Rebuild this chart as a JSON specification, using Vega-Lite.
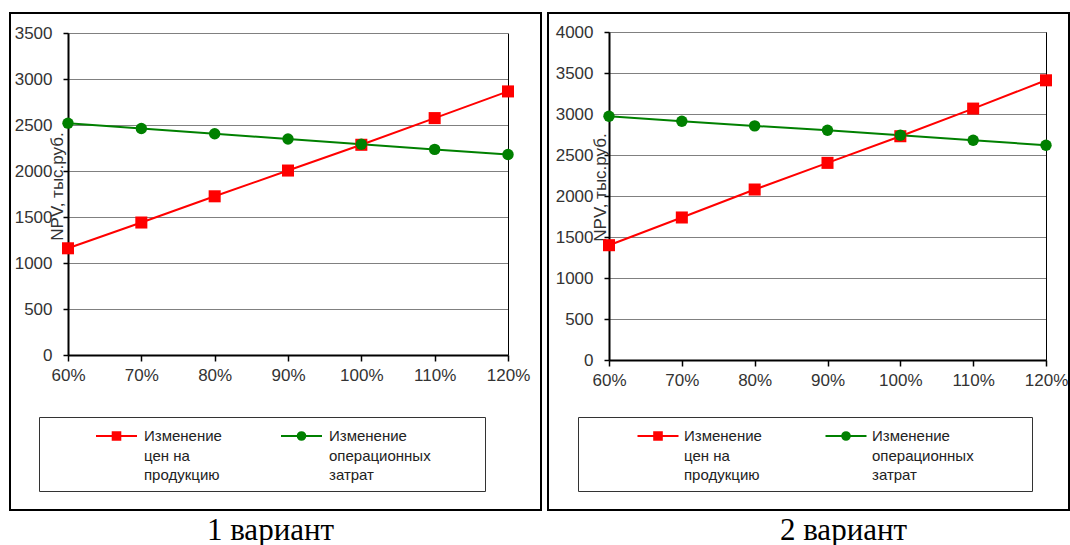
{
  "$schema": "https://vega.github.io/schema/vega-lite/v6.json",
  "padding": {"left": 9, "top": 12, "right": 0, "bottom": 0},
  "spacing": 5,
  "resolve": {"scale": {"color": "independent"}, "legend": {"color": "independent"}},
  "datasets": {
    "v1": [
      {"p": 0.6, "s": "price", "v": 1160}, {"p": 0.7, "s": "price", "v": 1440}, {"p": 0.8, "s": "price", "v": 1725},
      {"p": 0.9, "s": "price", "v": 2005}, {"p": 1.0, "s": "price", "v": 2285}, {"p": 1.1, "s": "price", "v": 2575},
      {"p": 1.2, "s": "price", "v": 2865},
      {"p": 0.6, "s": "cost", "v": 2520}, {"p": 0.7, "s": "cost", "v": 2462}, {"p": 0.8, "s": "cost", "v": 2405},
      {"p": 0.9, "s": "cost", "v": 2348}, {"p": 1.0, "s": "cost", "v": 2290}, {"p": 1.1, "s": "cost", "v": 2235},
      {"p": 1.2, "s": "cost", "v": 2180}
    ],
    "v2": [
      {"p": 0.6, "s": "price", "v": 1400}, {"p": 0.7, "s": "price", "v": 1738}, {"p": 0.8, "s": "price", "v": 2079},
      {"p": 0.9, "s": "price", "v": 2404}, {"p": 1.0, "s": "price", "v": 2729}, {"p": 1.1, "s": "price", "v": 3066},
      {"p": 1.2, "s": "price", "v": 3411},
      {"p": 0.6, "s": "cost", "v": 2973}, {"p": 0.7, "s": "cost", "v": 2912}, {"p": 0.8, "s": "cost", "v": 2855},
      {"p": 0.9, "s": "cost", "v": 2802}, {"p": 1.0, "s": "cost", "v": 2741}, {"p": 1.1, "s": "cost", "v": 2680},
      {"p": 1.2, "s": "cost", "v": 2619}
    ]
  },
  "config": {
    "view": {"stroke": "#000000", "strokeWidth": 2},
    "font": "Liberation Sans",
    "axis": {
      "labelFont": "Liberation Sans", "labelFontSize": 17, "labelColor": "#333333",
      "titleFont": "Liberation Sans", "titleFontSize": 17, "titleColor": "#333333", "titleFontWeight": "normal",
      "domainColor": "#000000", "domainWidth": 2, "tickColor": "#000000", "tickWidth": 1.5, "tickSize": 5,
      "gridColor": "#000000", "gridDash": [1, 1], "gridWidth": 1, "labelFlush": false, "labelOverlap": false
    },
    "axisX": {"labelPadding": 6, "tickSize": 6, "grid": false},
    "axisY": {"labelPadding": 11},
    "legend": {
      "orient": "none", "direction": "horizontal", "columns": 2, "title": null,
      "strokeColor": "#333333", "padding": 8,
      "symbolSize": 400, "symbolStrokeWidth": 2,
      "labelFont": "Liberation Sans", "labelFontSize": 15, "labelColor": "#222222", "labelBaseline": "middle", "labelLimit": 400
    },
    "title": {"font": "Liberation Serif", "fontSize": 31, "fontWeight": "normal", "color": "#000000", "baseline": "alphabetic", "offset": 6}
  },
  "hconcat": [
    {
      "width": 531, "height": 497,
      "data": {"name": "v1"},
      "title": {"text": "1 вариант", "orient": "bottom", "dx": -5},
      "resolve": {"axis": {"y": "independent"}},
      "encoding": {
        "x": {"field": "p", "type": "quantitative",
          "scale": {"domain": [0.6, 1.2], "range": [58, 498], "nice": false, "zero": false},
          "axis": {"values": [0.6, 0.7, 0.8, 0.9, 1.0, 1.1, 1.2], "format": ".0%", "offset": -155, "title": null}},
        "color": {"field": "s", "type": "nominal",
          "scale": {"domain": ["price", "cost"], "range": ["#ff0000", "#008000"]},
          "legend": {"legendX": 29, "legendY": 404, "symbolOffset": 58.5, "labelOffset": 16.5, "columnPadding": 10,
            "labelExpr": "datum.value === 'price' ? ['Изменение', 'цен на', 'продукцию'] : ['Изменение', 'операционных\u00a0\u00a0\u00a0\u00a0\u00a0\u00a0\u00a0\u00a0\u00a0\u00a0\u00a0\u200b', 'затрат']",
            "encode": {
              "symbols": {"update": {
                "shape": {"signal": "datum.value === 'price' ? 'M-2.05,0H2.05M-0.38,-0.38H0.38V0.38H-0.38Z' : 'M-2.05,0H2.05M0.38,0A0.38,0.38,0,1,1,-0.38,0A0.38,0.38,0,1,1,0.38,0Z'"},
                "fill": {"signal": "datum.value === 'price' ? '#ff0000' : '#008000'"},
                "stroke": {"signal": "datum.value === 'price' ? '#ff0000' : '#008000'"},
                "strokeWidth": {"value": 2}, "opacity": {"value": 1}}},
              "labels": {"update": {"lineHeight": {"value": 19.5}}}
            }}}
      },
      "layer": [
        {"mark": {"type": "line", "strokeWidth": 2},
          "encoding": {"y": {"field": "v", "type": "quantitative",
            "scale": {"domain": [0, 3500], "range": [342, 20], "nice": false},
            "axis": {"values": [0, 500, 1000, 1500, 2000, 2500, 3000, 3500], "format": "d", "offset": -58,
              "title": "NPV, тыс.руб.", "titleX": -11, "titleY": 173, "titleAngle": -90, "titleAlign": "center", "titleBaseline": "middle"}}}},
        {"transform": [{"filter": "datum.s === 'price'"}],
          "mark": {"type": "point", "shape": "square", "filled": true, "opacity": 1, "size": 145},
          "encoding": {"y": {"field": "v", "type": "quantitative",
            "axis": {"orient": "right", "offset": -33, "labels": false, "ticks": false, "grid": false, "title": null, "domainWidth": 1}}}},
        {"transform": [{"filter": "datum.s === 'cost'"}],
          "mark": {"type": "point", "shape": "circle", "filled": true, "opacity": 1, "size": 130},
          "encoding": {"y": {"field": "v", "type": "quantitative", "axis": null}}}
      ]
    },
    {
      "width": 521, "height": 497,
      "data": {"name": "v2"},
      "title": {"text": "2 вариант", "orient": "bottom", "dx": 35},
      "resolve": {"axis": {"y": "independent"}},
      "encoding": {
        "x": {"field": "p", "type": "quantitative",
          "scale": {"domain": [0.6, 1.2], "range": [61, 498], "nice": false, "zero": false},
          "axis": {"values": [0.6, 0.7, 0.8, 0.9, 1.0, 1.1, 1.2], "format": ".0%", "offset": -150, "title": null}},
        "color": {"field": "s", "type": "nominal",
          "scale": {"domain": ["price", "cost"], "range": ["#ff0000", "#008000"]},
          "legend": {"legendX": 30, "legendY": 404, "symbolOffset": 61, "labelOffset": 15, "columnPadding": 12,
            "labelExpr": "datum.value === 'price' ? ['Изменение', 'цен на', 'продукцию'] : ['Изменение', 'операционных\u00a0\u00a0\u00a0\u00a0\u00a0\u00a0\u00a0\u00a0\u00a0\u00a0\u00a0\u00a0\u200b', 'затрат']",
            "encode": {
              "symbols": {"update": {
                "shape": {"signal": "datum.value === 'price' ? 'M-2.05,0H2.05M-0.38,-0.38H0.38V0.38H-0.38Z' : 'M-2.05,0H2.05M0.38,0A0.38,0.38,0,1,1,-0.38,0A0.38,0.38,0,1,1,0.38,0Z'"},
                "fill": {"signal": "datum.value === 'price' ? '#ff0000' : '#008000'"},
                "stroke": {"signal": "datum.value === 'price' ? '#ff0000' : '#008000'"},
                "strokeWidth": {"value": 2}, "opacity": {"value": 1}}},
              "labels": {"update": {"lineHeight": {"value": 19.5}}}
            }}}
      },
      "layer": [
        {"mark": {"type": "line", "strokeWidth": 2},
          "encoding": {"y": {"field": "v", "type": "quantitative",
            "scale": {"domain": [0, 4000], "range": [347, 19], "nice": false},
            "axis": {"values": [0, 500, 1000, 1500, 2000, 2500, 3000, 3500, 4000], "format": "d", "offset": -61,
              "title": "NPV, тыс.руб.", "titleX": -9, "titleY": 174, "titleAngle": -90, "titleAlign": "center", "titleBaseline": "middle"}}}},
        {"transform": [{"filter": "datum.s === 'price'"}],
          "mark": {"type": "point", "shape": "square", "filled": true, "opacity": 1, "size": 145},
          "encoding": {"y": {"field": "v", "type": "quantitative",
            "axis": {"orient": "right", "offset": -23, "labels": false, "ticks": false, "grid": false, "title": null, "domainWidth": 1}}}},
        {"transform": [{"filter": "datum.s === 'cost'"}],
          "mark": {"type": "point", "shape": "circle", "filled": true, "opacity": 1, "size": 130},
          "encoding": {"y": {"field": "v", "type": "quantitative", "axis": null}}}
      ]
    }
  ]
}
